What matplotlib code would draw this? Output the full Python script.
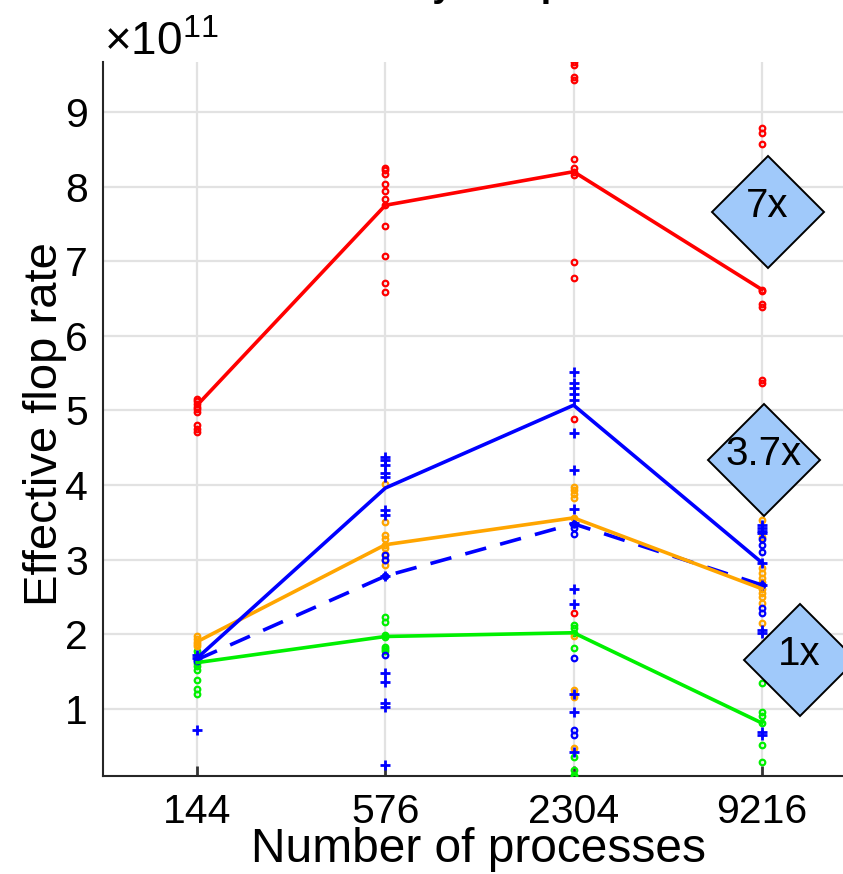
import matplotlib
matplotlib.use("Agg")
import matplotlib.pyplot as plt

# ===================== config =====================
plt.rcParams['font.family'] = ['Liberation Sans', 'DejaVu Sans']
plt.rcParams['mathtext.fontset'] = 'custom'
plt.rcParams['mathtext.rm'] = 'Liberation Sans'
plt.rcParams['mathtext.it'] = 'Liberation Sans:italic'

# ===================== data (units of 1e11 flop/s) =====================
procs = ["144", "576", "2304", "9216"]
scale_exp = 11

red_line = [5.07, 7.75, 8.20, 6.62]
blue_line = [1.68, 3.96, 5.07, 2.96]
orange_line = [1.90, 3.20, 3.56, 2.61]
blue_dash_line = [1.66, 2.78, 3.48, 2.66]
green_line = [1.62, 1.97, 2.02, 0.81]

red_pts = [
    [5.15, 5.12, 5.08, 5.05, 5.02, 4.98, 4.80, 4.75, 4.71],
    [8.25, 8.22, 8.17, 8.03, 7.94, 7.83, 7.76, 7.47, 7.07, 6.71, 6.59],
    [9.67, 9.63, 9.47, 9.43, 8.37, 8.25, 8.20, 8.16, 6.99, 6.77, 4.89, 2.28],
    [8.78, 8.72, 8.57, 6.62, 6.60, 6.42, 6.38, 5.41, 5.37],
]
blue_pts = [
    [1.72, 1.68, 0.72],
    [4.38, 4.33, 4.27, 4.16, 4.11, 3.67, 3.60, 2.78, 1.48, 1.36, 1.08, 1.03, 0.25],
    [5.52, 5.37, 5.30, 5.22, 5.14, 4.70, 4.20, 3.68, 3.49, 2.60, 2.40, 1.20, 0.96, 0.42],
    [3.47, 3.43, 3.39, 3.36, 2.96, 2.66, 2.06, 2.02, 0.69, 0.65],
]
blue_dash_pts = [
    [1.66, 1.64],
    [3.06, 3.00, 2.78, 1.72],
    [3.48, 3.42, 3.35, 1.68, 0.72, 0.65],
    [3.27, 3.20, 3.10, 2.66, 2.35, 2.28],
]
orange_pts = [
    [1.97, 1.94, 1.90, 1.87, 1.84],
    [4.02, 3.50, 3.33, 3.27, 3.20, 3.15, 3.08, 3.00, 2.93],
    [3.98, 3.94, 3.88, 3.83, 3.56, 1.98, 1.25, 1.20, 1.16, 0.48],
    [3.53, 3.31, 2.89, 2.82, 2.75, 2.70, 2.61, 2.55, 2.50, 2.42, 2.15],
]
green_pts = [
    [1.78, 1.72, 1.68, 1.62, 1.58, 1.52, 1.39, 1.27, 1.20],
    [2.23, 2.17, 1.99, 1.96, 1.83, 1.80, 1.77],
    [2.13, 2.08, 2.02, 1.82, 0.36, 0.18, 0.12, 0.09],
    [1.35, 0.96, 0.90, 0.81, 0.52, 0.29],
]

speedup_labels = ["7x", "3.7x", "1x"]
speedup_pos = [(3.03, 7.66), (3.01, 4.34), (3.20, 1.66)]

# ===================== plot =====================
W, H = 843, 874
fig = plt.figure(figsize=(W / 100, H / 100), dpi=100)
ax = fig.add_axes([103 / W, (H - 776) / H, (856 - 103) / W, (776 - 62) / H])

xs = range(len(procs))


def scatter_group(pts, color, marker):
    for i, vals in enumerate(pts):
        if marker == '+':
            ax.plot([i] * len(vals), vals, ls='none', marker='+', ms=7.5,
                    mew=2.0, color=color, zorder=3)
        else:
            ax.plot([i] * len(vals), vals, ls='none', marker='o', ms=4,
                    mfc='none', mew=1.6, color=color, zorder=3)


scatter_group(red_pts, '#ff0000', 'o')
scatter_group(green_pts, '#00f000', 'o')
scatter_group(orange_pts, '#ffa500', 'o')
scatter_group(blue_dash_pts, '#0000ff', 'o')
scatter_group(blue_pts, '#0000ff', '+')

ax.plot(xs, red_line, color='#ff0000', lw=2.6, zorder=4)
ax.plot(xs, green_line, color='#00f000', lw=2.6, zorder=4)
ax.plot(xs, blue_dash_line, color='#0000ff', lw=2.6, ls=(0, (6, 4)), zorder=4)
ax.plot(xs, orange_line, color='#ffa500', lw=2.6, zorder=4)
ax.plot(xs, blue_line, color='#0000ff', lw=2.6, zorder=4)

# speedup diamonds
for lab, (px, py) in zip(speedup_labels, speedup_pos):
    ax.plot(px, py, marker='D', ms=57, mfc='#a0c9fa', mec='black', mew=1.4,
            ls='none', clip_on=False, zorder=6)
    ax.text(px, py + 0.08, lab, ha='center', va='center', fontsize=29,
            zorder=7, clip_on=False)

ax.set_xlim(-0.5, 3.5)
ax.set_ylim(0.1, 9.67)
ax.set_xticks(list(xs))
ax.set_xticklabels(procs)
ax.set_yticks(range(1, 10))
ax.grid(color='#e2e2e2', lw=1.6, zorder=0)
ax.set_axisbelow(True)

for s in ['top', 'right']:
    ax.spines[s].set_visible(False)
for s in ['left', 'bottom']:
    ax.spines[s].set_color('#262626')
    ax.spines[s].set_linewidth(1.5)

ax.tick_params(axis='x', direction='in', length=7, width=2, color='#333333',
               pad=12, labelsize=29.5)
ax.tick_params(axis='y', length=0, pad=11, labelsize=29.5)

# labels
fig.text(479 / W, 1 - 862 / H, "Number of processes", ha='center',
         va='baseline', fontsize=34.5)
fig.text(57 / W, 1 - 424 / H, "Effective flop rate", rotation=90,
         rotation_mode='anchor', ha='center', va='baseline', fontsize=34)
fig.text(104 / W, 1 - 55 / H, r"$\times10^{%d}$" % scale_exp, ha='left',
         va='baseline', fontsize=33)
# title sits mostly above the canvas, only descenders show
fig.text(476 / W, 1 + 4 / H, "Efficiency comparison", ha='center',
         va='baseline', fontsize=27, fontweight='bold')

plt.savefig("out.png", dpi=100)
